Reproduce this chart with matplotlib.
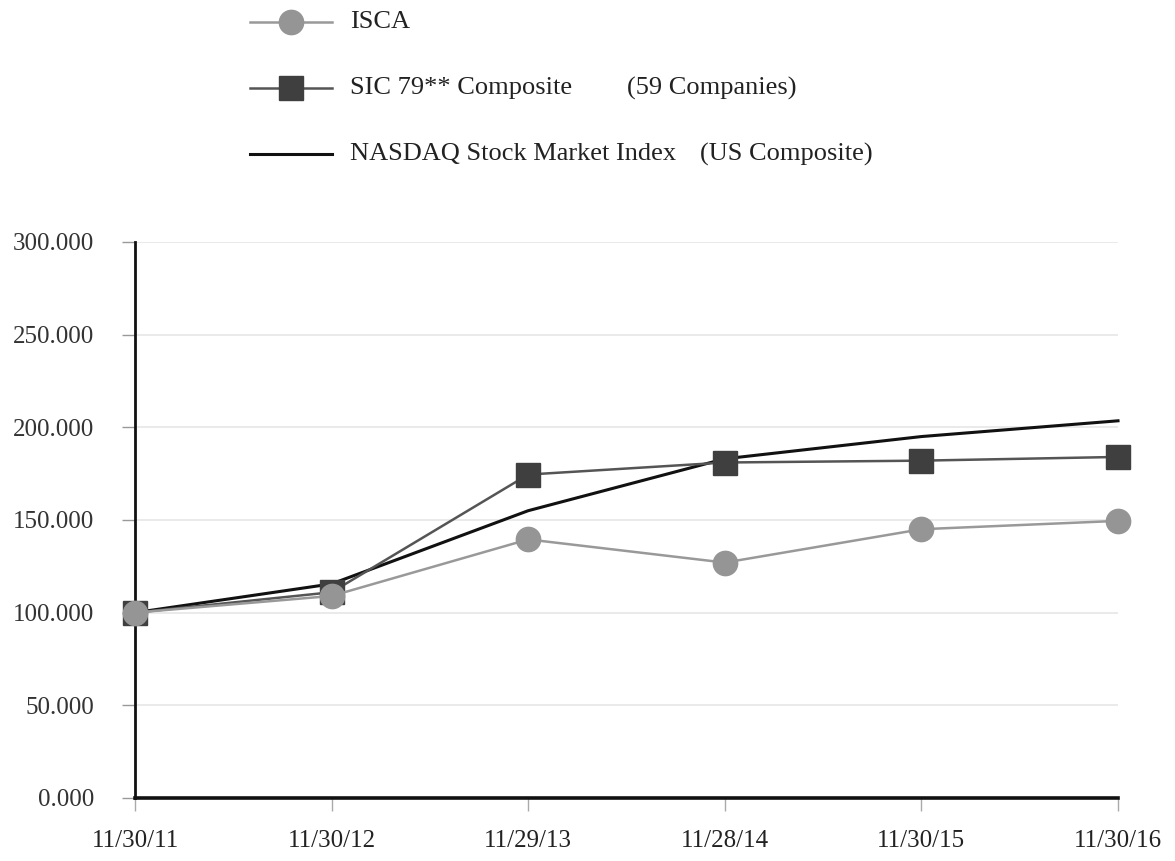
import matplotlib
matplotlib.use("Agg")
import matplotlib.pyplot as plt
from matplotlib.lines import Line2D

plt.rcParams['font.family'] = ['Liberation Serif', 'DejaVu Serif']

dates = ["11/30/11", "11/30/12", "11/29/13", "11/28/14", "11/30/15", "11/30/16"]
isca = [100.0, 109.0, 139.5, 127.0, 145.0, 149.5]
sic = [100.0, 111.0, 174.5, 181.0, 182.0, 184.0]
nasdaq = [100.0, 115.5, 155.0, 183.0, 195.0, 203.5]
yticks = [0, 50, 100, 150, 200, 250, 300]
ytick_labels = ["0.000", "50.000", "100.000", "150.000", "200.000", "250.000", "300.000"]

fig = plt.figure(figsize=(11.75, 8.61), dpi=100)
ax = fig.add_axes([0.1149, 0.0732, 0.8366, 0.6458])

ISCA_STYLE = dict(color='#999999', lw=1.8, marker='o', ms=17.5, mfc='#959595', mec='#959595')
SIC_STYLE = dict(color='#555555', lw=1.8, marker='s', ms=17, mfc='#3f3f3f', mec='#3f3f3f')
NAS_STYLE = dict(color='#111111', lw=2.2)

x = list(range(len(dates)))
ax.plot(x, nasdaq, zorder=3, clip_on=False, **NAS_STYLE)
ax.plot(x, sic, zorder=4, clip_on=False, **SIC_STYLE)
ax.plot(x, isca, zorder=5, clip_on=False, **ISCA_STYLE)

ax.set_xlim(0, 5)
ax.set_ylim(0, 300)
ax.set_yticks(yticks)
ax.set_yticklabels(ytick_labels)
ax.set_xticks(x)
ax.set_xticklabels(dates)
ax.grid(axis='y', color='#e6e6e6', lw=1.2, zorder=0)
ax.set_axisbelow(True)
for s in ['top', 'right']:
    ax.spines[s].set_visible(False)
ax.spines['left'].set_linewidth(2.0)
ax.spines['bottom'].set_linewidth(2.6)
ax.spines['left'].set_color('#111111')
ax.spines['bottom'].set_color('#111111')
ax.tick_params(axis='y', length=9.5, width=1, color='#999999', labelsize=18, pad=20, labelcolor='#333333')
ax.tick_params(axis='x', length=9, width=1, color='#aaaaaa', labelsize=18, pad=14, labelcolor='#222222')

# legend (manual)
def fx(px):
    return px / 1175.0

def fy(py):
    return 1 - py / 861.0

rows = [
    (22, ISCA_STYLE, "ISCA", None, None),
    (88, SIC_STYLE, "SIC 79** Composite", "(59 Companies)", 627),
    (154, NAS_STYLE, "NASDAQ Stock Market Index", "(US Composite)", 700),
]
for py, style, label, extra, ex in rows:
    ln = Line2D([fx(250), fx(332)], [fy(py), fy(py)], transform=fig.transFigure,
                color=style['color'], lw=style['lw'])
    fig.add_artist(ln)
    if 'marker' in style:
        m = Line2D([fx(291)], [fy(py)], transform=fig.transFigure, linestyle='none',
                   marker=style['marker'], ms=style['ms'], mfc=style['mfc'], mec=style['mec'])
        fig.add_artist(m)
    fig.text(fx(350), fy(py), label, fontsize=19, va='center', ha='left', color='#222222')
    if extra:
        fig.text(fx(ex), fy(py), extra, fontsize=19, va='center', ha='left', color='#222222')

fig.savefig("out.png", dpi=100)
